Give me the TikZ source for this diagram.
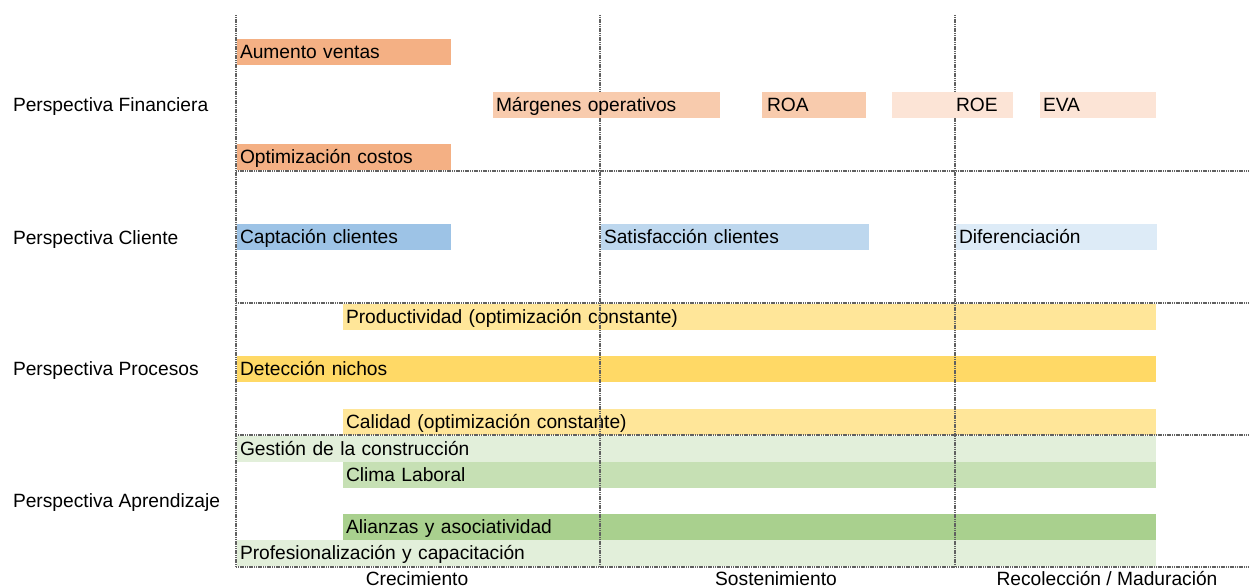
\documentclass[tikz,border=0pt]{standalone}
\usepackage{fontspec}
\setmainfont{Liberation Sans}
% fills of the strategy bars
\definecolor{fin1}{HTML}{F4B084}
\definecolor{fin2}{HTML}{F8CBAD}
\definecolor{fin3}{HTML}{FCE4D6}
\definecolor{cli1}{HTML}{9DC3E6}
\definecolor{cli2}{HTML}{BDD7EE}
\definecolor{cli3}{HTML}{DDEBF7}
\definecolor{pro1}{HTML}{FFE699}
\definecolor{pro2}{HTML}{FFD966}
\definecolor{apr1}{HTML}{E2EFDA}
\definecolor{apr2}{HTML}{C6E0B4}
\definecolor{apr3}{HTML}{A9D08E}
\begin{document}
\begin{tikzpicture}[x=0.5pt,y=-0.5pt,
  lbl/.style={font=\fontsize{9.6}{11}\selectfont, text=black, inner sep=0pt, outer sep=0pt,
              text height=6.9pt, text depth=0pt},
  bar/.style={lbl, anchor=north west, inner xsep=1.5pt, inner ysep=0pt, minimum height=13pt,
              align=left, text width=#1},
  gridline/.style={draw=black!62, line width=1pt, dash pattern=on 0.6pt off 0.3pt}]
\useasboundingbox (0,0) rectangle (1249,588);

% perspective labels
\node[lbl, anchor=west] (pfin) at (13,105) {Perspectiva Financiera};
\node[lbl, anchor=west] (pcli) at (13,238) {Perspectiva Cliente};
\node[lbl, anchor=west] (ppro) at (13,369) {Perspectiva Procesos};
\node[lbl, anchor=west] (papr) at (13,501) {Perspectiva Aprendizaje};

% phase labels
\node[lbl] (fcre) at (417,579) {Crecimiento};
\node[lbl] (fsos) at (776,579) {Sostenimiento};
\node[lbl] (frec) at (1107,579) {Recolección / Maduración};

% customer, process and learning bars (grid drawn over them)
\node[bar=104pt, fill=cli1] (capt) at (237,224) {Captación clientes};
\node[bar=131pt, fill=cli2] (sati) at (601,224) {Satisfacción clientes};
\node[bar=97.5pt, fill=cli3] (dife) at (956,224) {Diferenciación};

\node[bar=403.5pt, fill=pro1] (prod) at (343,304) {Productividad (optimización constante)};
\node[bar=456.5pt, fill=pro2] (dete) at (237,356) {Detección nichos};
\node[bar=403.5pt, fill=pro1] (cali) at (343,409) {Calidad (optimización constante)};

\node[bar=456.5pt, fill=apr1] (gest) at (237,436) {Gestión de la construcción};
\node[bar=403.5pt, fill=apr2] (clim) at (343,462) {Clima Laboral};
\node[bar=403.5pt, fill=apr3] (alia) at (343,514) {Alianzas y asociatividad};
\node[bar=456.5pt, fill=apr1] (prof) at (237,540) {Profesionalización y capacitación};

% grid
\draw[gridline] (236,15) -- (236,567);
\draw[gridline] (600,15) -- (600,567);
\draw[gridline] (955,15) -- (955,567);
\draw[gridline] (236,171) -- (1249,171);
\draw[gridline] (236,303) -- (1249,303);
\draw[gridline] (236,435) -- (1249,435);
\draw[gridline] (236,567) -- (1249,567);

% financial bars (drawn over the grid)
\node[bar=104pt, fill=fin1] (aume) at (237,39) {Aumento ventas};
\node[bar=104pt, fill=fin1] (opti) at (237,144) {Optimización costos};
\node[bar=110.5pt, fill=fin2] (marg) at (493,92) {Márgenes operativos};
\node[bar=49pt, fill=fin2] (roa) at (762,92) {\hspace*{1pt}ROA};
\node[bar=57.5pt, fill=fin3] (roe) at (892,92) {\hspace*{30.5pt}ROE};
\node[bar=55pt, fill=fin3] (eva) at (1040,92) {EVA};
\end{tikzpicture}
\end{document}
